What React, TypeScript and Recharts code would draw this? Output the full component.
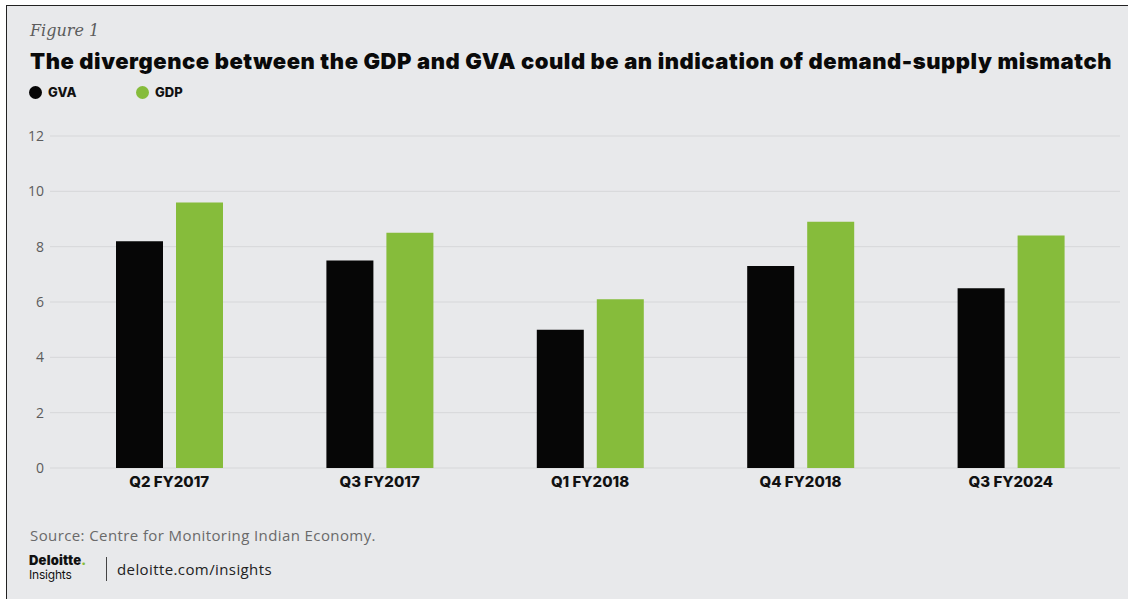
import { Bar, BarChart, CartesianGrid, XAxis, YAxis } from 'recharts';

const quarters = ['Q2 FY2017', 'Q3 FY2017', 'Q1 FY2018', 'Q4 FY2018', 'Q3 FY2024'];
const gvaGrowth = [8.2, 7.5, 5.0, 7.3, 6.5];
const gdpGrowth = [9.6, 8.5, 6.1, 8.9, 8.4];
const yTicks = [0, 2, 4, 6, 8, 10, 12];

const colors = {
    gva: '#060606',
    gdp: '#86bc3b',
    background: '#e8e9eb',
    grid: '#d6d7d9',
    muted: '#5c5c5c',
};

const sansFont = '"Open Sans", "Noto Sans", sans-serif';
const headFont = 'Inter, "Noto Sans", sans-serif';

const data = quarters.map((quarter, i) => ({
    quarter,
    gva: gvaGrowth[i],
    gdp: gdpGrowth[i],
}));

const LegendDot = ({ color, label, left }: { color: string; label: string; left: number }) => (
    <div
        style={{
            position: 'absolute',
            left,
            top: 84,
            display: 'flex',
            alignItems: 'center',
            gap: 6,
        }}
    >
        <span
            style={{
                width: 13,
                height: 13,
                borderRadius: '50%',
                background: color,
                display: 'inline-block',
            }}
        />
        <span style={{ fontFamily: headFont, fontWeight: 800, fontSize: 13, color: '#111' }}>
            {label}
        </span>
    </div>
);

export default function App() {
    return (
        <div
            style={{
                position: 'absolute',
                left: 0,
                top: 0,
                width: 1131,
                height: 599,
                background: '#fff',
                overflow: 'hidden',
            }}
        >
            <div
                style={{
                    position: 'absolute',
                    left: 6,
                    top: 5,
                    width: 1121,
                    height: 600,
                    background: colors.background,
                    borderTop: '1.5px solid #222',
                    borderLeft: '1.5px solid #222',
                }}
            />
            <div
                style={{
                    position: 'absolute',
                    left: 30,
                    top: 21,
                    fontFamily: '"DejaVu Serif", "Liberation Serif", serif',
                    fontStyle: 'italic',
                    fontSize: 16,
                    color: colors.muted,
                }}
            >
                Figure 1
            </div>
            <div
                style={{
                    position: 'absolute',
                    left: 30,
                    top: 48,
                    fontFamily: headFont,
                    fontWeight: 900,
                    fontSize: 22,
                    letterSpacing: 0.55,
                    color: '#0a0a0a',
                    whiteSpace: 'nowrap',
                }}
            >
                The divergence between the GDP and GVA could be an indication of demand-supply mismatch
            </div>
            <LegendDot color={colors.gva} label="GVA" left={29} />
            <LegendDot color={colors.gdp} label="GDP" left={136} />

            <div style={{ position: 'absolute', left: 0, top: 0 }}>
                <BarChart
                    width={1131}
                    height={599}
                    data={data}
                    margin={{ top: 136, right: 11, bottom: 101, left: 0 }}
                    barSize={47}
                    barGap={13}
                >
                    <CartesianGrid vertical={false} stroke={colors.grid} />
                    <XAxis
                        dataKey="quarter"
                        axisLine={false}
                        tickLine={false}
                        padding={{ left: 14, right: 4 }}
                        tick={{ fill: '#111', fontSize: 15, fontWeight: 800, fontFamily: headFont }}
                    />
                    <YAxis
                        width={50}
                        domain={[0, 12]}
                        ticks={yTicks}
                        axisLine={false}
                        tickLine={false}
                        tickMargin={0}
                        tick={{ fill: colors.muted, fontSize: 14, fontFamily: sansFont }}
                    />
                    <Bar dataKey="gva" name="GVA" fill={colors.gva} isAnimationActive={false} />
                    <Bar dataKey="gdp" name="GDP" fill={colors.gdp} isAnimationActive={false} />
                </BarChart>
            </div>

            <div
                style={{
                    position: 'absolute',
                    left: 30,
                    top: 525,
                    fontFamily: sansFont,
                    fontSize: 15,
                    letterSpacing: 0.4,
                    color: '#6a6a6a',
                }}
            >
                Source: Centre for Monitoring Indian Economy.
            </div>
            <div
                style={{
                    position: 'absolute',
                    left: 29,
                    top: 553,
                    fontFamily: headFont,
                    fontWeight: 900,
                    fontSize: 13,
                    lineHeight: '15px',
                    letterSpacing: 0.2,
                    color: '#111',
                }}
            >
                Deloitte<span style={{ color: colors.gdp }}>.</span>
            </div>
            <div
                style={{
                    position: 'absolute',
                    left: 29,
                    top: 568,
                    fontFamily: headFont,
                    fontWeight: 400,
                    fontSize: 12,
                    lineHeight: '13px',
                    letterSpacing: -0.2,
                    color: '#111',
                }}
            >
                Insights
            </div>
            <div
                style={{
                    position: 'absolute',
                    left: 106,
                    top: 557,
                    width: 1,
                    height: 24,
                    background: '#444',
                }}
            />
            <div
                style={{
                    position: 'absolute',
                    left: 117,
                    top: 559,
                    fontFamily: sansFont,
                    fontSize: 15,
                    letterSpacing: 0.4,
                    color: '#222',
                }}
            >
                deloitte.com/insights
            </div>
        </div>
    );
}
